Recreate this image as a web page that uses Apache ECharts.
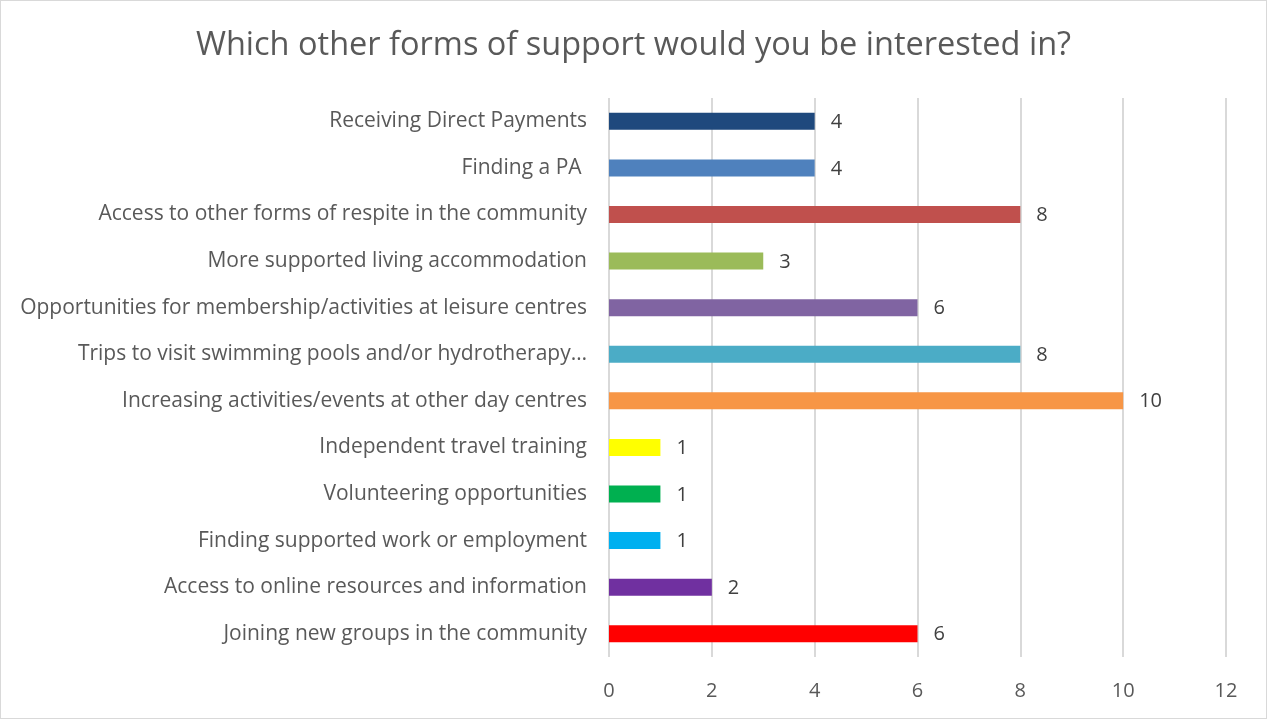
<!DOCTYPE html>
<html>
<head>
<meta charset="utf-8">
<script src="https://cdn.jsdelivr.net/npm/echarts@6/dist/echarts.min.js"></script>
<style>
  html, body { margin: 0; padding: 0; background: #fff; }
  #chart { width: 1267px; height: 719px; border: 1px solid #d9d9d9; box-sizing: border-box; }
</style>
</head>
<body>
<div id="chart"></div>
<script>
// Survey answers, listed top to bottom
const categories = [
  "Receiving Direct Payments",
  "Finding a PA ",
  "Access to other forms of respite in the community",
  "More supported living accommodation",
  "Opportunities for membership/activities at leisure centres",
  "Trips to visit swimming pools and/or hydrotherapy…",
  "Increasing activities/events at other day centres",
  "Independent travel training",
  "Volunteering opportunities",
  "Finding supported work or employment",
  "Access to online resources and information",
  "Joining new groups in the community"
];
const counts = [4, 4, 8, 3, 6, 8, 10, 1, 1, 1, 2, 6];
const barColors = [
  "#1F497D", "#4F81BD", "#C0504D", "#9BBB59", "#8064A2", "#4BACC6",
  "#F79646", "#FFFF00", "#00B050", "#00B0F0", "#7030A0", "#FF0000"
];
const xTicks = { min: 0, max: 12, interval: 2 };

const font = "'Open Sans', Lato, sans-serif";
const chart = echarts.init(document.getElementById("chart"));
chart.setOption({
  animation: false,
  title: {
    text: "Which other forms of support would you be interested in?",
    left: "center",
    top: 23,
    textStyle: { fontFamily: font, fontSize: 32.5, fontWeight: "normal", color: "#595959" }
  },
  grid: { left: 608, right: 40, top: 97, bottom: 61 },
  xAxis: {
    type: "value",
    min: xTicks.min, max: xTicks.max, interval: xTicks.interval,
    axisLine: { show: false },
    axisTick: { show: false },
    axisLabel: { fontFamily: font, fontSize: 20, color: "#595959", margin: 24 },
    splitLine: { lineStyle: { color: "#d9d9d9", width: 2 } }
  },
  yAxis: {
    type: "category",
    inverse: true,
    data: categories,
    axisLine: { show: false },
    axisTick: { show: false },
    axisLabel: { fontFamily: font, fontSize: 21, color: "#595959", margin: 22, padding: [7, 0, 0, 0] }
  },
  series: [{
    type: "bar",
    barWidth: 17,
    data: counts.map((v, i) => ({ value: v, itemStyle: { color: barColors[i] } })),
    label: {
      show: true,
      position: "right",
      distance: 16,
      offset: [0, 1],
      fontFamily: font,
      fontSize: 20,
      color: "#404040"
    }
  }]
});
</script>
</body>
</html>
